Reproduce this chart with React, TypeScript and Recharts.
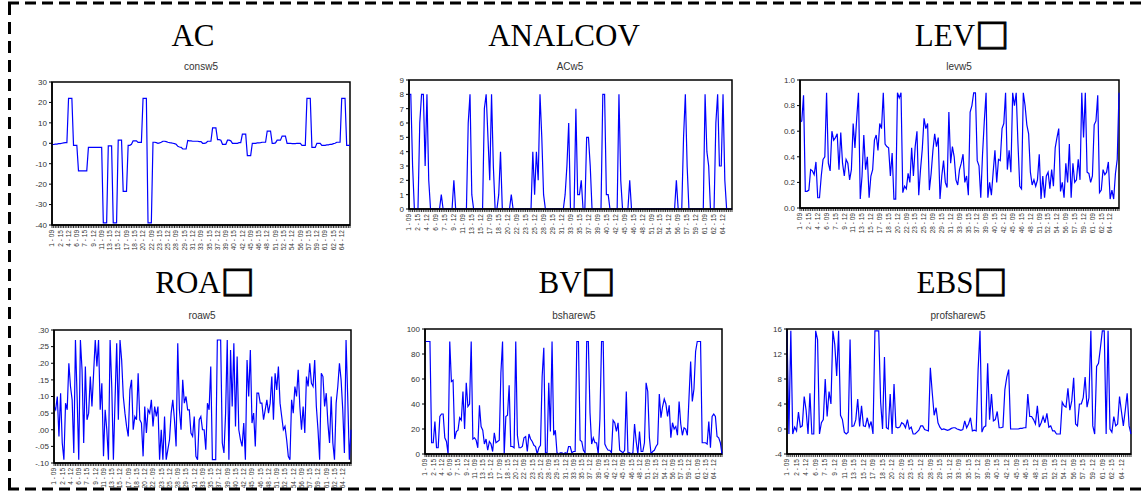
import { LineChart, Line, XAxis, YAxis, ReferenceArea } from "recharts";

// firm - year labels, one every LABEL_STEP observations
const xLabels = [
  "1 - 09", "2 - 15", "4 - 12", "6 - 09", "7 - 15", "9 - 12", "11 - 09", "13 - 15", "15 - 12",
  "17 - 09", "18 - 15", "20 - 12", "22 - 09", "23 - 15", "25 - 12", "28 - 09", "29 - 15", "31 - 12",
  "33 - 09", "35 - 15", "37 - 12", "39 - 09", "40 - 15", "42 - 12", "45 - 09", "46 - 15", "48 - 12",
  "51 - 09", "52 - 15", "54 - 12", "56 - 09", "57 - 15", "59 - 12", "61 - 09", "62 - 15", "64 - 12",
];
const LABEL_STEP = 5;

const consw5 = [
  -0.6, -0.6, -0.4, -0.4, -0.2, -0.2, 0, 0.2, 0.3, 0.3,
  22, 22, 22, -1, -1, -1, -13.5, -13.5, -13.5, -13.5,
  -13.5, -13.5, -2, -2, -2, -2, -2, -2, -2, -2,
  -2, -39, -39, -39, -1.3, -1.3, -1.3, -39, -39, -39,
  1.5, 1.5, 1.5, -23.5, -23.5, -23.5, -1, -1, -0.5, 1.2,
  1.2, 1.2, 0.4, 0.4, 0.4, 22, 22, 22, -39, -39,
  -39, 0.5, 0.5, 0.3, 0, 0.2, 0.5, 1, 1, 0.8,
  0.5, 0.3, 0.2, 0, -0.2, -0.5, -1.5, -1.8, -2, -2.8,
  -2.8, -2.8, 1.4, 1.2, 1.2, 1, 1, 1, 1, 0.8,
  0.8, 0, 0, 0.2, 1, 1, 1, 7.5, 7.5, 7.5,
  1.8, 1.8, 1.5, -0.5, -0.5, -0.5, 1.5, 1.5, 1.2, 0,
  0, 0, 0, 0.3, 0.3, 4.5, 4.5, 4.5, -6, -6,
  -6, 0, 0, 0, 0.2, 0.2, 0.3, 0.5, 0.5, 0.5,
  6, 6, 6, 0, 0, 0.2, 1.5, 1.5, 1.5, 3.5,
  3.5, 3.5, 0, 0, 0, -0.2, -0.2, -0.2, 0, 0,
  0, -1, -1, -1, 22, 22, 22, -2, -2, -2,
  0, 0, 0, -1, -1, -1, -0.8, -0.8, -0.5, -0.5,
  -0.2, 0, 0.5, 0.5, 0.5, 22, 22, 22, -1, -1,
  -1,
];

const acw5 = [
  8, 8, 3, 0, 0, 0, 6, 8, 8, 3,
  8, 2, 0, 0, 0, 0, 0, 0, 1, 0,
  0, 0, 0, 0, 0, 2, 0, 0, 0, 0,
  0, 0, 0, 6, 8, 1, 0, 0, 0, 0,
  0, 0, 7, 8, 5, 2, 8, 3, 0, 0,
  1, 4, 0, 0, 0, 0, 0, 1, 0, 0,
  0, 0, 0, 0, 0, 0, 0, 0, 0, 4,
  1, 4, 2, 8, 5, 1, 0, 0, 0, 0,
  0, 0, 0, 0, 0, 0, 0, 1, 3, 6,
  0, 0, 0, 7, 1, 1, 2, 0, 0, 5,
  5, 3, 0, 0, 0, 0, 0, 0, 8, 8,
  1, 1, 0, 0, 0, 0, 0, 8, 2, 0,
  0, 0, 0, 2, 0, 0, 0, 0, 0, 0,
  0, 0, 0, 0, 0, 0, 0, 0, 0, 0,
  0, 0, 0, 0, 0, 0, 0, 0, 0, 2,
  0, 0, 0, 5, 8, 3, 0, 0, 0, 0,
  0, 0, 0, 0, 0, 8, 4, 3, 0, 0,
  0, 6, 8, 3, 3, 8, 2, 0, 0, 0,
  0,
];

const levw5 = [
  0.67, 0.68, 0.88, 0.13, 0.13, 0.14, 0.3, 0.29, 0.26, 0.36,
  0.08, 0.08, 0.25, 0.38, 0.4, 0.9, 0.35, 0.29, 0.6, 0.53,
  0.55, 0.58, 0.3, 0.59, 0.35, 0.25, 0.38, 0.35, 0.22, 0.3,
  0.66, 0.47, 0.7, 0.9, 0.07, 0.25, 0.57, 0.3, 0.4, 0.08,
  0.25, 0.3, 0.53, 0.57, 0.45, 0.66, 0.62, 0.9, 0.5, 0.48,
  0.47, 0.25, 0.43, 0.07, 0.07, 0.9, 0.86, 0.9, 0.12, 0.17,
  0.15, 0.27, 0.2, 0.47, 0.25, 0.48, 0.6, 0.1, 0.3, 0.46,
  0.7, 0.62, 0.66, 0.14, 0.27, 0.45, 0.58, 0.48, 0.55, 0.07,
  0.25, 0.37, 0.2, 0.16, 0.75, 0.35, 0.48, 0.4, 0.22, 0.18,
  0.3, 0.35, 0.42, 0.2, 0.25, 0.1, 0.75, 0.8, 0.9, 0.9,
  0.37, 0.33, 0.08, 0.42, 0.68, 0.9, 0.08, 0.2, 0.1, 0.28,
  0.45, 0.2, 0.38, 0.37, 0.62, 0.66, 0.9, 0.3, 0.45, 0.28,
  0.9, 0.8, 0.9, 0.5, 0.17, 0.15, 0.9, 0.8, 0.65, 0.58,
  0.28, 0.18, 0.22, 0.17, 0.22, 0.42, 0.07, 0.25, 0.08, 0.25,
  0.28, 0.15, 0.3, 0.17, 0.47, 0.55, 0.62, 0.13, 0.2, 0.08,
  0.35, 0.2, 0.5, 0.08, 0.35, 0.2, 0.22, 0.38, 0.22, 0.9,
  0.55, 0.9, 0.28, 0.27, 0.2, 0.25, 0.65, 0.68, 0.88, 0.12,
  0.14, 0.3, 0.26, 0.28, 0.36, 0.07, 0.14, 0.07, 0.27, 0.38,
  0.9,
];

const roaw5 = [
  0.07, 0.06, 0.1, -0.02, 0.11, -0.04, -0.09, 0.08, 0.06, 0.2,
  0.13, 0.09, -0.07, 0.27, 0.1, -0.09, 0.27, 0.18, -0.04, 0.19,
  0.03, 0.05, 0.16, 0.07, 0.17, 0.27, 0.19, 0.27, 0.06, 0.14,
  -0.08, 0.06, 0.0, -0.09, 0.27, 0.13, -0.09, 0.09, 0.26, 0.03,
  0.27, 0.21, 0.1, 0.05, 0.01, -0.02, 0.12, 0.15, 0.0, 0.04,
  0.03, 0.17, 0.03, 0.02, -0.08, 0.07, -0.01, 0.06, 0.05, 0.09,
  0.01, 0.07, 0.04, 0.07, -0.09, 0.0, -0.09, 0.04, -0.09, -0.06,
  -0.03, 0.05, 0.09, 0.03, -0.05, 0.26, 0.06, 0.0, 0.15, 0.08,
  0.1, 0.06, 0.06, -0.01, -0.02, 0.04, -0.08, -0.09, 0.03, 0.04,
  0.0, 0.0, -0.06, 0.08, 0.06, 0.19, -0.09, -0.09, -0.09, 0.27,
  0.27, 0.27, -0.04, -0.07, 0.05, 0.27, -0.09, 0.24, 0.07, 0.26,
  0.01, 0.22, 0.0, -0.03, -0.05, 0.02, -0.09, 0.21, 0.1, 0.24,
  0.02, 0.05, -0.05, 0.11, 0.11, 0.08, 0.08, 0.03, 0.06, 0.09,
  0.05, 0.08, 0.16, 0.03, 0.17, 0.12, 0.19, 0.08, 0.04, 0.0,
  0.01, -0.03, -0.08, -0.09, 0.09, 0.05, 0.13, 0.1, 0.18, 0.07,
  0.0, 0.07, -0.01, 0.16, 0.13, 0.2, 0.14, 0.13, 0.21, 0.07,
  0.0, -0.09, 0.17, 0.16, 0.07, 0.11, 0.02, -0.04, 0.1, -0.04,
  -0.09, 0.08, 0.13, 0.2, 0.15, 0.06, -0.07, 0.27, 0.1, -0.09,
  0.0,
];

const bsharew5 = [
  90, 90, 90, 90, 9, 9, 26, 5, 5, 30,
  32, 32, 13, 10, 0, 90, 58, 59, 12, 18,
  19, 29, 27, 50, 20, 57, 38, 40, 90, 12,
  13, 11, 5, 39, 22, 19, 8, 12, 3, 10,
  8, 2, 17, 9, 10, 11, 65, 90, 0, 30,
  31, 55, 6, 6, 5, 90, 15, 5, 5, 6,
  13, 14, 2, 16, 12, 10, 7, 6, 0, 5,
  7, 62, 85, 1, 1, 57, 18, 90, 15, 19,
  1, 0, 1, 1, 0, 1, 0, 6, 6, 1,
  2, 2, 90, 90, 11, 10, 3, 1, 90, 90,
  33, 8, 13, 9, 9, 0, 28, 90, 90, 8,
  5, 3, 3, 1, 27, 25, 18, 25, 3, 2,
  1, 3, 50, 1, 1, 0, 1, 24, 10, 0,
  18, 2, 2, 9, 57, 50, 13, 0, 2, 3,
  6, 8, 48, 29, 38, 44, 40, 30, 39, 13,
  25, 20, 22, 15, 42, 24, 15, 21, 20, 15,
  45, 74, 42, 52, 82, 90, 90, 90, 9, 9,
  9, 8, 26, 5, 30, 32, 30, 14, 13, 9,
  0,
];

const profsharew5 = [
  15.7, -0.8, 15.7, -0.8, 0.3, -0.3, 2.7, 0.3, 0.5, 5.2,
  3, -0.8, 5.7, -0.8, -0.8, 15.7, 14.3, -0.8, 1, 1.5,
  8, 2, 6, 4, 15.7, 13.5, 8.5, 15.7, 2.2, 1.5,
  -0.5, -0.8, -0.5, 14.3, 0.4, 0.5, 1.5, 4.8, 0.4, 3.7,
  0.5, 0.4, 1.8, 0.3, 1.2, -0.8, 15.7, 15.7, 15.7, 4.3,
  0, 11.5, 0.2, 0, 5.6, -0.8, 7.2, 0.3, 0.2, 0.3,
  1, 0.8, 0.2, 1.5, 0, 0.3, -0.8, -0.8, -0.5, -0.2,
  0.5, 0.5, -0.1, -0.2, -0.3, 9.8, 5.8, 2.2, 3.4, 1,
  0.3, -0.1, 0, -0.1, -0.2, -0.1, 0.1, 0.2, 0.2, 0,
  -0.1, -0.2, -0.1, 1.3, 0.2, 0.8, 1.8, -0.3, -0.2, -0.3,
  9.5, 15.7, -0.5, 0.3, 0.5, 10.5, 1.5, 5.6, 1.3, 1.5,
  2.8, 0.2, 0.2, 0.3, 6.3, 8.3, 9.5, 0, 0, 0,
  0, 0, 0.1, 0.1, 0.2, 0.2, 5.6, 2, 2, 1.5,
  0.8, 3.7, 0.3, 1, 2, 1, 2.5, 0.3, 0.5, -0.3,
  -0.3, -0.8, -0.8, -0.8, 4.3, 3.7, 3.5, 6.5, 3, 4.5,
  8.2, 0.8, 0.5, 4, 4, 5, 8.3, 3.5, 5, 15.7,
  0.5, -0.8, 10, 10.5, 13, 15.7, 15.7, -0.8, 15.7, 0,
  -0.5, 2, 0.5, 0.8, 5.2, 2.8, 0.5, 3, 5.7, 0.5,
  -0.8,
];

const acTicks = [-40, -30, -20, -10, 0, 10, 20, 30];
const analcovTicks = [0, 1, 2, 3, 4, 5, 6, 7, 8, 9];
const levTicks = [0, 0.2, 0.4, 0.6, 0.8, 1.0];
const roaTicks = [-0.1, -0.05, 0, 0.05, 0.1, 0.15, 0.2, 0.25, 0.3];
const bvTicks = [0, 20, 40, 60, 80, 100];
const ebsTicks = [-4, 0, 4, 8, 12, 16];

const AXIS_W = 45;
const X_AXIS_H = 40;
const BLUE = "#0000ff";
const SANS = "'Liberation Sans', Arial, sans-serif";
const SERIF = "'Liberation Serif', 'Times New Roman', serif";

const XTick = (props: any) => {
  const { x, y, payload } = props;
  const idx = payload.value;
  if (idx % LABEL_STEP !== 0) return null;
  const label = xLabels[idx / LABEL_STEP];
  if (!label) return null;
  return (
    <text
      x={x}
      y={y}
      transform={`rotate(-90 ${x} ${y})`}
      textAnchor="end"
      dy="0.35em"
      fontSize={6.5}
      fontFamily={SANS}
      fill="#333"
    >
      {label}
    </text>
  );
};

const fmtRoa = (v: number) => (v < 0 ? "-" : "") + Math.abs(v).toFixed(2).slice(1);

interface PanelProps {
  name: string;
  values: number[];
  ticks: number[];
  fmt: (v: number) => string;
  box: { l: number; t: number; r: number; b: number };
}

const Panel = ({ name, values, ticks, fmt, box }: PanelProps) => {
  const data = values.map((v, i) => ({ i, v }));
  const idxTicks = values.map((_, i) => i);
  const lo = ticks[0];
  const hi = ticks[ticks.length - 1];
  const w = box.r - box.l + AXIS_W + 5;
  const h = box.b - box.t + 5 + X_AXIS_H;
  return (
    <div style={{ position: "absolute", left: box.l - AXIS_W, top: box.t - 5 }}>
      <LineChart width={w} height={h} data={data} margin={{ top: 5, right: 5, bottom: 0, left: 0 }}>
        <XAxis
          dataKey="i"
          type="number"
          domain={[0, values.length - 1]}
          ticks={idxTicks}
          interval={0}
          height={X_AXIS_H}
          tickSize={3}
          tickLine={{ stroke: "#000", strokeWidth: 0.8 }}
          axisLine={{ stroke: "#000", strokeWidth: 1.5 }}
          tick={<XTick />}
        />
        <YAxis
          type="number"
          domain={[lo, hi]}
          ticks={ticks}
          interval={0}
          allowDataOverflow
          width={AXIS_W}
          tickSize={3}
          tickFormatter={fmt}
          tickLine={{ stroke: "#000" }}
          axisLine={{ stroke: "#000", strokeWidth: 1.5 }}
          tick={{ fontSize: 8, fill: "#333", fontFamily: SANS }}
        />
        <ReferenceArea
          x1={0}
          x2={values.length - 1}
          y1={lo}
          y2={hi}
          fill="#fff"
          fillOpacity={0}
          stroke="#000"
          strokeWidth={1.5}
          ifOverflow="visible"
        />
        <Line
          type="linear"
          dataKey="v"
          name={name}
          stroke={BLUE}
          strokeWidth={1.2}
          dot={false}
          isAnimationActive={false}
        />
      </LineChart>
    </div>
  );
};

// box: the title carries a missing-glyph square after the name
const titles = [
  { text: "AC", box: false, sub: "consw5", x: 193, y: 46, sy: 70, sx: 201 },
  { text: "ANALCOV", box: false, sub: "ACw5", x: 564, y: 46, sy: 70, sx: 570 },
  { text: "LEV", box: true, sub: "levw5", x: 962, y: 46, sy: 70, sx: 959 },
  { text: "ROA", box: true, sub: "roaw5", x: 205, y: 293, sy: 319, sx: 202 },
  { text: "BV", box: true, sub: "bsharew5", x: 577, y: 293, sy: 319, sx: 574 },
  { text: "EBS", box: true, sub: "profsharew5", x: 962, y: 293, sy: 319, sx: 958 },
];

export default function App() {
  return (
    <div style={{ position: "absolute", left: 0, top: 0, width: 1144, height: 493, overflow: "hidden", background: "#fff" }}>
      <svg width={1144} height={493} style={{ position: "absolute", left: 0, top: 0 }}>
        <line x1={8} y1={3} x2={1150} y2={3} stroke="#000" strokeWidth={3} strokeDasharray="11 6" />
        <line x1={8} y1={489} x2={1150} y2={489} stroke="#000" strokeWidth={3} strokeDasharray="11 6" />
        <line x1={9.5} y1={3} x2={9.5} y2={489} stroke="#000" strokeWidth={3} strokeDasharray="12 7" />
        {titles.map((t) => (
          <g key={t.text}>
            <text x={t.x} y={t.y} textAnchor="middle" fontSize={31} fontFamily={SERIF} fill="#000">
              {t.text}
              {t.box && (
                <tspan fontSize={36} fontFamily="'DejaVu Sans', sans-serif" stroke="#000" strokeWidth={0.7} dy={-1}>
                  {"\u25A1"}
                </tspan>
              )}
            </text>
            <text x={t.sx} y={t.sy} textAnchor="middle" fontSize={10} fontFamily={SANS} fill="#333">
              {t.sub}
            </text>
          </g>
        ))}
      </svg>
      <Panel name="consw5" values={consw5} ticks={acTicks} fmt={(v) => String(v)} box={{ l: 52, t: 82, r: 350, b: 225 }} />
      <Panel name="ACw5" values={acw5} ticks={analcovTicks} fmt={(v) => String(v)} box={{ l: 409, t: 80, r: 732, b: 209 }} />
      <Panel name="levw5" values={levw5} ticks={levTicks} fmt={(v) => v.toFixed(1)} box={{ l: 800, t: 80, r: 1119, b: 208 }} />
      <Panel name="roaw5" values={roaw5} ticks={roaTicks} fmt={fmtRoa} box={{ l: 54, t: 330, r: 351, b: 463 }} />
      <Panel name="bsharew5" values={bsharew5} ticks={bvTicks} fmt={(v) => String(v)} box={{ l: 425, t: 329, r: 722, b: 454 }} />
      <Panel name="profsharew5" values={profsharew5} ticks={ebsTicks} fmt={(v) => String(v)} box={{ l: 787, t: 329, r: 1131, b: 454 }} />
    </div>
  );
}
